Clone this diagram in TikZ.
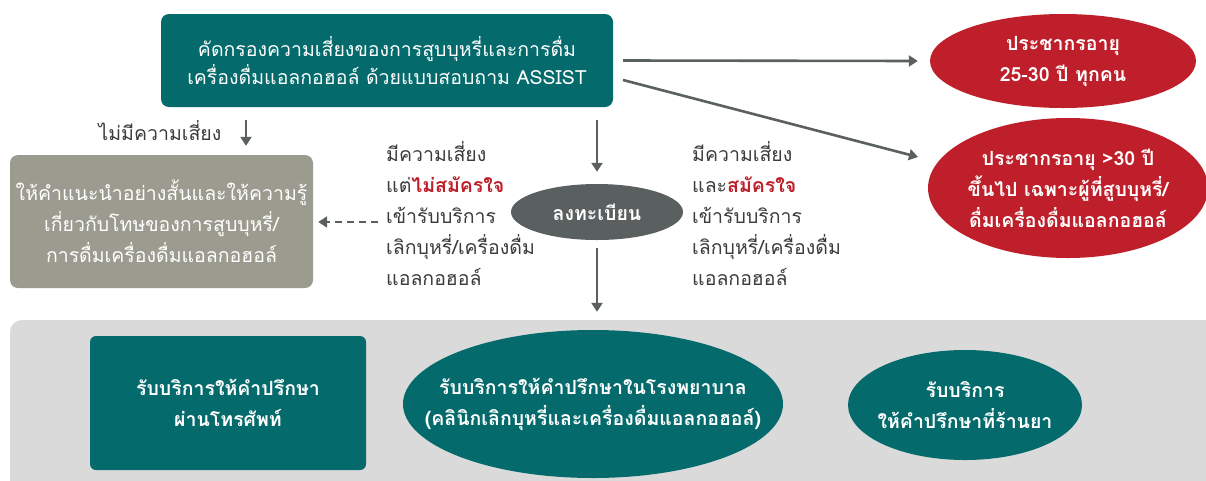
\documentclass[tikz,border=0pt]{standalone}
\usepackage{fontspec}
\newfontfamily\thai[Script=Thai]{Loma}
\usetikzlibrary{arrows.meta,shapes.geometric}
\definecolor{tealc}{RGB}{4,106,107}
\definecolor{redc}{RGB}{191,31,42}
\definecolor{regc}{RGB}{90,95,95}
\definecolor{arrc}{RGB}{90,96,96}
\definecolor{advc}{RGB}{156,155,143}
\definecolor{panelc}{RGB}{218,218,218}
\definecolor{txtc}{RGB}{60,60,60}
\tikzset{
  base/.style={inner sep=0pt, align=center, text=white},
  tealbox/.style={base, rectangle, rounded corners=8pt, fill=tealc},
  tealell/.style={base, ellipse, fill=tealc},
  redell/.style={base, ellipse, fill=redc},
  advbox/.style={base, rectangle, rounded corners=8pt, fill=advc},
  regell/.style={base, ellipse, fill=regc},
  lbl/.style={base},
  note/.style={inner sep=0pt, align=left, text=txtc, anchor=north west},
  arr/.style={draw=arrc, line width=2.6pt, -{Triangle[width=11pt,length=9pt]}},
  big/.style={font=\thai\fontsize{19.5}{28}\selectfont},
  mid/.style={font=\thai\fontsize{19.5}{31}\selectfont},
  bigb/.style={font=\thai\bfseries\fontsize{19.5}{31}\selectfont},
}
\begin{document}
\begin{tikzpicture}[x=1pt,y=-1pt]
\clip (0,0) rectangle (1206,480);
\fill[white] (0,0) rectangle (1206,480);
% panel
\node[rectangle, rounded corners=12pt, fill=panelc, minimum width=1220pt, minimum height=180pt, inner sep=0pt] (panel) at (620,410) {};
% top box
\node[tealbox, big, minimum width=452pt, minimum height=93pt] (screen) at (387,60.5)
  {คัดกรองความเสี่ยงของการสูบบุหรี่และการดื่ม\\เครื่องดื่มแอลกอฮอล์ ด้วยแบบสอบถาม ASSIST};
% red ellipses
\node[redell, minimum width=266pt, minimum height=94pt] (pop1) at (1063,61) {};
\node[lbl, bigb] (pop1t) at (pop1) {ประชากรอายุ\\25-30 ปี ทุกคน};
\node[redell, minimum width=280pt, minimum height=140pt] (pop2) at (1068,188) {};
\node[lbl, bigb] (pop2t) at (pop2) {ประชากรอายุ >30 ปี\\ขึ้นไป เฉพาะผู้ที่สูบบุหรี่/\\ดื่มเครื่องดื่มแอลกอฮอล์};
% advice box
\node[advbox, mid, minimum width=303pt, minimum height=133pt] (advice) at (161.5,221.5)
  {ให้คำแนะนำอย่างสั้นและให้ความรู้\\เกี่ยวกับโทษของการสูบบุหรี่/\\การดื่มเครื่องดื่มแอลกอฮอล์};
\node[inner sep=0pt, text=txtc, mid] (norisk) at (160,131) {ไม่มีความเสี่ยง};
% register
\node[regell, minimum width=172pt, minimum height=56pt] (reg) at (597,212) {};
\node[lbl, bigb] (regt) at (reg) {ลงทะเบียน};
% side notes
\node[note, mid] (leftnote) at (386,141)
  {มีความเสี่ยง\\แต่{\bfseries\color{redc}ไม่สมัครใจ}\\เข้ารับบริการ\\เลิกบุหรี่/เครื่องดื่ม\\แอลกอฮอล์};
\node[note, mid] (rightnote) at (692,141)
  {มีความเสี่ยง\\และ{\bfseries\color{redc}สมัครใจ}\\เข้ารับบริการ\\เลิกบุหรี่/เครื่องดื่ม\\แอลกอฮอล์};
% bottom services
\node[tealbox, bigb, rounded corners=6pt, minimum width=276pt, minimum height=134pt] (phone) at (228,403)
  {รับบริการให้คำปรึกษา\\ผ่านโทรศัพท์};
\node[tealell, minimum width=380pt, minimum height=148pt] (hosp) at (593,404) {};
\node[lbl, bigb] (hospt) at (hosp) {รับบริการให้คำปรึกษาในโรงพยาบาล\\(คลินิกเลิกบุหรี่และเครื่องดื่มแอลกอฮอล์)};
\node[tealell, minimum width=234pt, minimum height=110pt] (pharm) at (965,405) {};
\node[lbl, bigb] (pharmt) at (pharm) {รับบริการ\\ให้คำปรึกษาที่ร้านยา};
% connectors
\coordinate (s2) at (623,80);
\coordinate (e2) at (918,157);
\coordinate (d1) at (597,120);
\coordinate (n1) at (246,120);
\coordinate (ds) at (378,222);
\draw[arr] ([xshift=10pt]screen.east) -- ([xshift=-12pt]pop1.west);
\draw[arr] (s2) -- (e2);
\draw[arr, shorten >=12pt] (d1) -- (reg.north);
\draw[arr, shorten <=8pt, shorten >=8pt] (reg.south) -- (reg.south |- panel.north);
\draw[arr, shorten >=9pt] (n1) -- (n1 |- advice.north);
\draw[arr, line width=2pt, dash pattern=on 7pt off 5pt, shorten >=5pt] (ds) -- (ds -| advice.east);
\end{tikzpicture}
\end{document}
